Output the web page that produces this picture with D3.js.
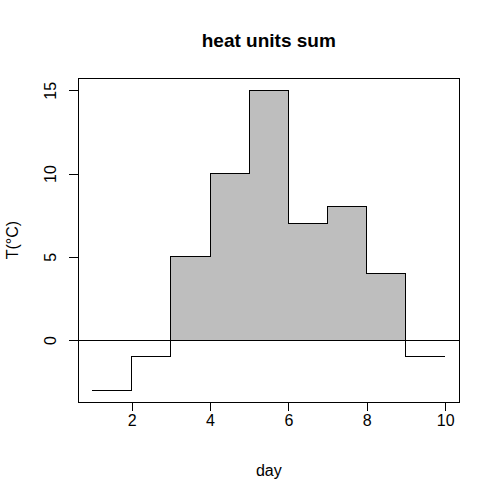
<!DOCTYPE html>
<html>
<head>
<meta charset="utf-8">
<script src="https://cdn.jsdelivr.net/npm/d3@7"></script>
<style>
  body { margin: 0; background: #fff; }
  text { font-family: "Liberation Sans", Arial, sans-serif; fill: #000; }
</style>
</head>
<body>
<div id="chart"></div>
<script>
// heat units: step plot, positive part shaded
var days = [1, 2, 3, 4, 5, 6, 7, 8, 9, 10];
var temps = [-3, -1, 5, 10, 15, 7, 8, 4, -1, -1];
var xTicks = [2, 4, 6, 8, 10];
var yTicks = [0, 5, 10, 15];

var W = 500, H = 500;
var box = {left: 78.3, right: 459.3, top: 78.3, bottom: 402};

var svg = d3.select("#chart").append("svg")
  .attr("width", W).attr("height", H)
  .style("background", "#fff");

// R style 4% padding on the ranges
var xr = d3.extent(days), yr = d3.extent(temps);
var xp = (xr[1] - xr[0]) * 0.04, yp = (yr[1] - yr[0]) * 0.04;
var x = d3.scaleLinear().domain([xr[0] - xp, xr[1] + xp]).range([box.left, box.right]);
var y = d3.scaleLinear().domain([yr[0] - yp, yr[1] + yp]).range([box.bottom, box.top]);

var pts = days.map(function(d, i){ return {day: d, t: temps[i]}; });

// shaded area above zero
var area = d3.area()
  .curve(d3.curveStepAfter)
  .x(function(d){ return x(d.day); })
  .y0(y(0))
  .y1(function(d){ return y(Math.max(d.t, 0)); });
svg.append("path").datum(pts)
  .attr("d", area)
  .attr("fill", "#BEBEBE")
  .attr("stroke", "none")
  .attr("shape-rendering", "crispEdges");

// zero line
svg.append("line")
  .attr("x1", box.left).attr("x2", box.right)
  .attr("y1", y(0)).attr("y2", y(0))
  .attr("stroke", "#000").attr("stroke-width", 1)
  .attr("shape-rendering", "crispEdges");

// step line
var line = d3.line()
  .curve(d3.curveStepAfter)
  .x(function(d){ return x(d.day); })
  .y(function(d){ return y(d.t); });
svg.append("path").datum(pts)
  .attr("d", line)
  .attr("fill", "none")
  .attr("stroke", "#000").attr("stroke-width", 1)
  .attr("shape-rendering", "crispEdges");

// box
svg.append("rect")
  .attr("x", box.left).attr("y", box.top)
  .attr("width", box.right - box.left).attr("height", box.bottom - box.top)
  .attr("fill", "none").attr("stroke", "#000").attr("stroke-width", 1)
  .attr("shape-rendering", "crispEdges");

// axes
var gx = svg.append("g").attr("transform", "translate(0," + box.bottom + ")")
  .call(d3.axisBottom(x).tickValues(xTicks).tickSize(9).tickSizeOuter(0).tickPadding(4));
gx.selectAll("text").attr("font-size", "16px").attr("dy", "0.71em")
  .style("font-family", "Liberation Sans, Arial, sans-serif");

var gy = svg.append("g").attr("transform", "translate(" + box.left + ",0)")
  .call(d3.axisLeft(y).tickValues(yTicks).tickSize(9).tickSizeOuter(0));
gy.selectAll("text")
  .attr("font-size", "16px")
  .attr("x", null).attr("dy", null)
  .attr("text-anchor", "middle")
  .attr("transform", "translate(-22,0) rotate(-90)")
  .style("font-family", "Liberation Sans, Arial, sans-serif");

svg.selectAll(".domain, .tick line")
  .attr("stroke", "#000").attr("shape-rendering", "crispEdges");

// titles
svg.append("text")
  .attr("x", (box.left + box.right) / 2).attr("y", 46.5)
  .attr("text-anchor", "middle")
  .attr("font-size", "19px").attr("font-weight", "bold")
  .text("heat units sum");

svg.append("text")
  .attr("x", (box.left + box.right) / 2).attr("y", 476)
  .attr("text-anchor", "middle")
  .attr("font-size", "16px")
  .text("day");

svg.append("text")
  .attr("transform", "translate(18," + ((box.top + box.bottom) / 2) + ") rotate(-90)")
  .attr("text-anchor", "middle")
  .attr("font-size", "16px")
  .text("T(°C)");
</script>
</body>
</html>
